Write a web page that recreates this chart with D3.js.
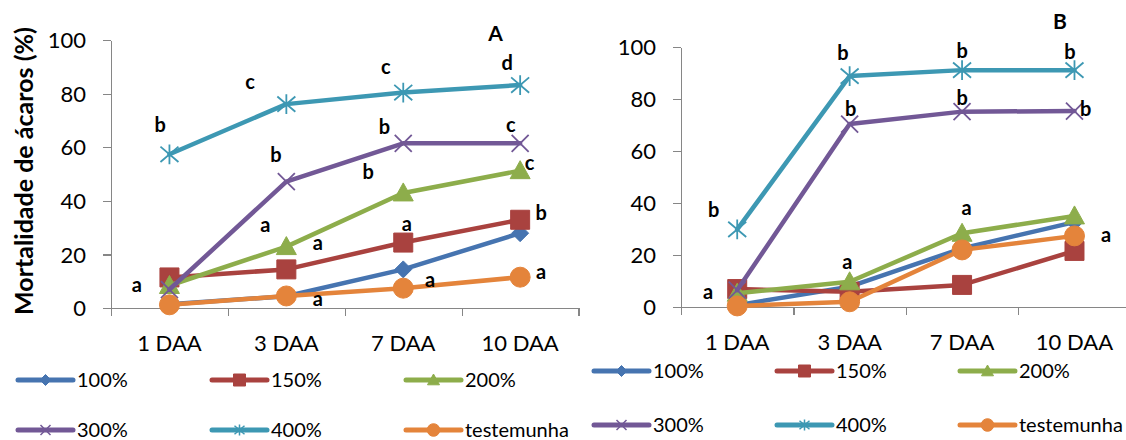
<!DOCTYPE html>
<html>
<head>
<meta charset="utf-8">
<script src="https://cdn.jsdelivr.net/npm/d3@7"></script>
<style>
	body { margin: 0; background: #fff; }
	svg { display: block; font-family: Lato, 'Open Sans', sans-serif; }
	.axis path, .axis line { stroke: #868686; stroke-width: 1.3; shape-rendering: crispEdges; }
	.axis text { font-family: Lato, sans-serif; font-size: 22px; fill: #000; }
	.letter { font-weight: bold; font-size: 20px; text-anchor: middle; }
	.legend text { font-size: 20px; }
</style>
</head>
<body>
<svg width="1126" height="440"></svg>
<script>
// categories and ticks
const categories = ['1 DAA', '3 DAA', '7 DAA', '10 DAA'];
const yTicks = [0, 20, 40, 60, 80, 100];
const seriesNames = ['100%', '150%', '200%', '300%', '400%', 'testemunha'];

// panel A (mortality %)
const a100 = [1.5, 4.5, 14.5, 28];
const a150 = [11.5, 14.5, 24.5, 33];
const a200 = [8.5, 23, 43, 51.3];
const a300 = [7, 47.2, 61.5, 61.5];
const a400 = [57.4, 76.1, 80.4, 83.2];
const aTest = [1.3, 4.6, 7.5, 11.6];

// panel B (mortality %)
const b100 = [0.6, 7.7, 22.5, 32.6];
const b150 = [6.8, 5.8, 8.4, 21.5];
const b200 = [5.2, 9.6, 28.3, 35];
const b300 = [6.4, 70.4, 75.2, 75.4];
const b400 = [29.8, 88.9, 91.2, 91.2];
const bTest = [0.3, 1.9, 21.9, 27.3];

// significance letters: [text, category position, value]
const lettersA = [
	['b', -0.08, 68.3], ['c', 0.69, 84.5], ['c', 1.85, 90], ['d', 2.89, 91.3],
	['b', 0.91, 57.1], ['b', 1.84, 67.7], ['c', 2.92, 68.3],
	['b', 1.7, 50.9], ['c', 3.08, 54],
	['a', 0.82, 31], ['a', 1.27, 24.2], ['a', 2.03, 31.4], ['b', 3.18, 35.4],
	['a', -0.28, 8.7], ['a', 1.27, 3.5], ['a', 2.23, 10.5], ['a', 3.18, 13.6],
];
const lettersB = [
	['b', 0.94, 97.9], ['b', 2.0, 98.7], ['b', 2.96, 98.3],
	['b', 1.01, 76.1], ['b', 2.0, 80.3], ['b', 3.1, 76.1],
	['b', -0.21, 37.3], ['a', 2.04, 37.9], ['a', 3.28, 27.6],
	['a', 0.98, 17.3], ['a', -0.26, 5.8],
];

const colors = ['#4674b0', '#a9423f', '#8dad4b', '#725896', '#3d98b3', '#e4843b'];
const markers = ['diamond', 'square', 'triangle', 'x', 'star', 'circle'];

function markerPath (type, r) {
	switch (type) {
		case 'diamond': return `M0,${-r}L${r},0L0,${r}L${-r},0Z`;
		case 'square': return `M${-r},${-r}H${r}V${r}H${-r}Z`;
		case 'triangle': return `M0,${-r}L${r},${r * 0.8}L${-r},${r * 0.8}Z`;
		case 'x': return `M${-r},${-r}L${r},${r}M${-r},${r}L${r},${-r}`;
		case 'star': return `M${-r},${-r * 0.85}L${r},${r * 0.85}M${-r},${r * 0.85}L${r},${-r * 0.85}M0,${-r * 1.1}L0,${r * 1.1}`;
		default: return d3.symbol(d3.symbolCircle, Math.PI * r * r)();
	}
}
const markerSize = { diamond: 8.5, square: 9.5, triangle: 10, x: 8.5, star: 9, circle: 10 };
const legendSize = { diamond: 5.5, square: 6, triangle: 6, x: 5, star: 5, circle: 6.3 };
const stroked = t => t === 'x' || t === 'star';

const svg = d3.select('svg');

function drawPanel (cfg) {
	const { left, right, top, bottom, series, letters, title } = cfg;
	const x = d3.scaleLinear().domain([-0.5, categories.length - 0.5]).range([left, right]);
	const y = d3.scaleLinear().domain([0, 100]).range([bottom, top]);
	const g = svg.append('g');

	g.append('g').attr('class', 'axis')
		.attr('transform', `translate(${left},0)`)
		.call(d3.axisLeft(y).tickValues(yTicks).tickSize(8).tickSizeOuter(0).tickPadding(17))
		.call(s => s.selectAll('text').attr('dy', '0.34em'));

	g.append('g').attr('class', 'axis')
		.attr('transform', `translate(0,${bottom})`)
		.call(d3.axisBottom(x).tickValues(d3.range(-0.5, categories.length, 1)).tickSize(8).tickSizeOuter(0).tickFormat(''));

	g.selectAll('text.cat').data(categories).join('text')
		.attr('class', 'cat')
		.attr('x', (d, i) => x(i))
		.attr('y', bottom + 43)
		.attr('text-anchor', 'middle')
		.style('font-size', '22px')
		.text(d => d);

	const line = d3.line().x((d, i) => x(i)).y(d => y(d));

	series.forEach((values, s) => {
		const sg = g.append('g');
		sg.append('path')
			.attr('d', line(values))
			.attr('fill', 'none')
			.attr('stroke', colors[s])
			.attr('stroke-width', 4.5)
			.attr('stroke-linejoin', 'round')
			.attr('stroke-linecap', 'round');
		const t = markers[s];
		sg.selectAll('path.marker').data(values).join('path')
			.attr('class', 'marker')
			.attr('transform', (d, i) => `translate(${x(i)},${y(d)})`)
			.attr('d', markerPath(t, markerSize[t]))
			.attr('fill', stroked(t) ? 'none' : colors[s])
			.attr('stroke', colors[s])
			.attr('stroke-width', stroked(t) ? 1.8 : 1);
	});

	g.selectAll('text.letter').data(letters).join('text')
		.attr('class', 'letter')
		.attr('x', d => x(d[1]))
		.attr('y', d => y(d[2]))
		.attr('dy', '0.35em')
		.text(d => d[0]);

	g.append('text')
		.attr('x', x(title[1]))
		.attr('y', y(title[2]))
		.attr('dy', '0.36em')
		.attr('text-anchor', 'middle')
		.style('font-weight', 'bold')
		.style('font-size', '21px')
		.text(title[0]);
}

function drawLegend (cfg) {
	const { cols, rows } = cfg;
	const lg = svg.append('g').attr('class', 'legend');
	seriesNames.forEach((name, i) => {
		const cx = cols[i % 3];
		const cy = rows[Math.floor(i / 3)];
		const t = markers[i];
		lg.append('line')
			.attr('x1', cx).attr('x2', cx + 55)
			.attr('y1', cy).attr('y2', cy)
			.attr('stroke', colors[i])
			.attr('stroke-width', 5)
			.attr('stroke-linecap', 'round');
		lg.append('path')
			.attr('transform', `translate(${cx + 27.5},${cy})`)
			.attr('d', markerPath(t, legendSize[t]))
			.attr('fill', stroked(t) ? 'none' : colors[i])
			.attr('stroke', colors[i])
			.attr('stroke-width', stroked(t) ? 1.5 : 1);
		lg.append('text')
			.attr('x', cx + 59)
			.attr('y', cy)
			.attr('dy', '0.36em')
			.text(name);
	});
}

drawPanel({
	left: 111, right: 578.6, top: 40, bottom: 308.3,
	series: [a100, a150, a200, a300, a400, aTest],
	letters: lettersA,
	title: ['A', 2.79, 102.5],
});
drawPanel({
	left: 681, right: 1130.7, top: 47.3, bottom: 306.7,
	series: [b100, b150, b200, b300, b400, bTest],
	letters: lettersB,
	title: ['B', 2.87, 109.9],
});

drawLegend({ cols: [18, 212, 406], rows: [380, 430] });
drawLegend({ cols: [594, 777, 960], rows: [371, 425] });

// y axis title, fitted to the reference length
const yTitle = svg.append('text')
	.attr('transform', 'translate(24,171)rotate(-90)')
	.attr('text-anchor', 'middle')
	.attr('dy', '0.35em')
	.style('font-weight', 'bold')
	.style('font-size', '20px')
	.text('Mortalidade de ácaros (%)');
const len = yTitle.node().getComputedTextLength();
yTitle.style('font-size', `${20 * 288 / len}px`);
</script>
</body>
</html>
